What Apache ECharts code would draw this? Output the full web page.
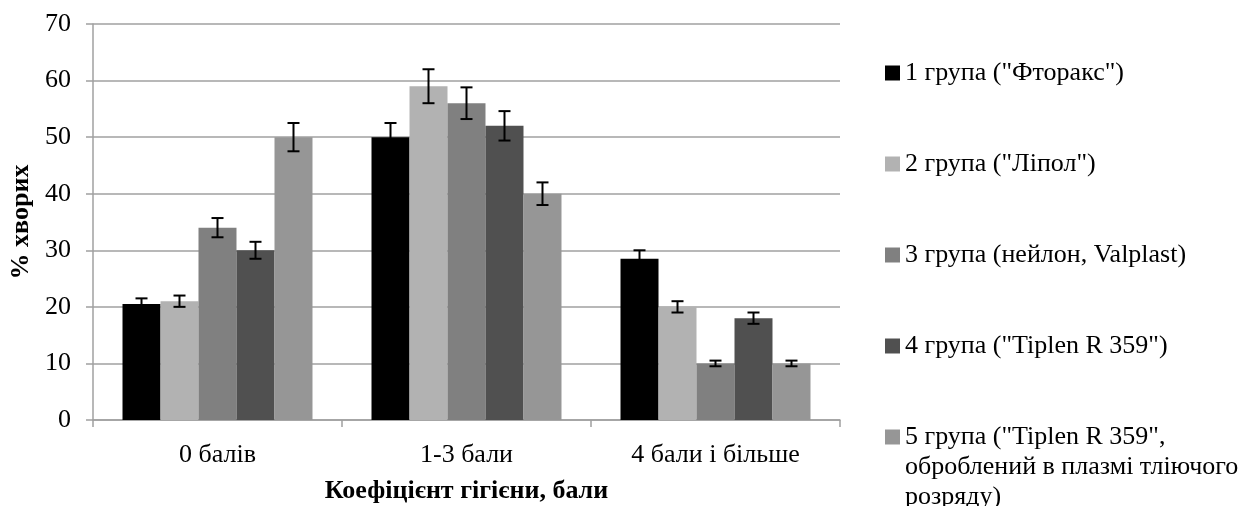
<!DOCTYPE html>
<html><head><meta charset="utf-8">
<script src="https://cdn.jsdelivr.net/npm/echarts@6/dist/echarts.min.js"></script>
<style>html,body{margin:0;padding:0;background:#fff}#c{width:1250px;height:506px}</style>
</head><body><div id="c"></div>
<script>
var categories = ['0 балів', '1-3 бали', '4 бали і більше'];
var seriesNames = ['1 група ("Фторакс")', '2 група ("Ліпол")', '3 група (нейлон, Valplast)', '4 група ("Tiplen R 359")', '5 група ("Tiplen R 359", оброблений в плазмі тліючого розряду)'];
var legendLabels = ['1 група ("Фторакс")', '2 група ("Ліпол")', '3 група (нейлон, Valplast)', '4 група ("Tiplen R 359")', '\n\n5 група ("Tiplen R 359",\nоброблений в плазмі тліючого\nрозряду)'];
var group1 = [20.5, 50, 28.5];
var group2 = [21, 59, 20];
var group3 = [34, 56, 10];
var group4 = [30, 52, 18];
var group5 = [50, 40, 10];
var err1 = [1, 2.5, 1.5];
var err2 = [1, 3, 1];
var err3 = [1.7, 2.8, 0.5];
var err4 = [1.5, 2.6, 1];
var err5 = [2.5, 2, 0.5];
var yTicks = [0, 10, 20, 30, 40, 50, 60, 70];

var values = [group1, group2, group3, group4, group5];
var errs = [err1, err2, err3, err4, err5];
var colors = ['#000000', '#b2b2b2', '#808080', '#505050', '#969696'];
var catGap = 0.237;
var font = '"Liberation Serif", "Times New Roman", serif';

var chart = echarts.init(document.getElementById('c'));
var series = [];
values.forEach(function (v, i) {
  series.push({
    name: seriesNames[i], type: 'bar', data: v, barGap: '0%', barCategoryGap: (catGap * 100) + '%',
    itemStyle: { color: colors[i] }, silent: true, animation: false
  });
});
values.forEach(function (v, i) {
  series.push({
    type: 'custom', silent: true, animation: false, z: 10,
    data: v.map(function (val, k) { return [k, val - errs[i][k], val + errs[i][k]]; }),
    encode: { x: 0, y: [1, 2] },
    renderItem: function (params, api) {
      var band = api.size([1, 0])[0];
      var barW = band * (1 - catGap) / 5;
      var off = -band * (1 - catGap) / 2 + barW * (i + 0.5);
      var lo = api.coord([api.value(0), api.value(1)]);
      var hi = api.coord([api.value(0), api.value(2)]);
      var x = lo[0] + off, cw = 6;
      var st = { stroke: '#000', lineWidth: 2 };
      return { type: 'group', children: [
        { type: 'line', shape: { x1: x, y1: lo[1], x2: x, y2: hi[1] }, style: st },
        { type: 'line', shape: { x1: x - cw, y1: lo[1], x2: x + cw, y2: lo[1] }, style: st },
        { type: 'line', shape: { x1: x - cw, y1: hi[1], x2: x + cw, y2: hi[1] }, style: st }
      ] };
    }
  });
});

var legendCenters = [73, 164, 255, 346, 437];
var lh = 30;
var legends = [];
seriesNames.forEach(function (n, i) {
  var lines = legendLabels[i].split('\n').length;
  legends.push({
    data: [n], left: 885, itemWidth: 15, itemHeight: 15, itemGap: 0, selectedMode: false,
    icon: 'rect', formatter: function () { return legendLabels[i]; },
    top: legendCenters[i] - lines * lh / 2, padding: 0,
    textStyle: { fontFamily: font, fontSize: 26, color: '#000', lineHeight: lh }
  });
});

chart.setOption({
  backgroundColor: '#fff',
  animation: false,
  grid: { left: 93, top: 24, right: 410, bottom: 86, outerBoundsMode: 'none', containLabel: false },
  legend: legends,
  xAxis: {
    type: 'category', data: categories,
    name: 'Коефіцієнт гігієни, бали', nameLocation: 'middle', nameGap: 58,
    nameTextStyle: { fontFamily: font, fontSize: 26, fontWeight: 'bold', color: '#000' },
    axisLine: { lineStyle: { color: '#a0a0a0', width: 1.5 } },
    axisTick: { show: true, length: 7, lineStyle: { color: '#a0a0a0', width: 1.5 } },
    axisLabel: { fontFamily: font, fontSize: 26, color: '#000', margin: 22 }
  },
  yAxis: {
    type: 'value', min: yTicks[0], max: yTicks[yTicks.length - 1], interval: 10,
    name: '% хворих', nameLocation: 'middle', nameGap: 53,
    nameTextStyle: { fontFamily: font, fontSize: 26, fontWeight: 'bold', color: '#000' },
    axisLine: { show: true, lineStyle: { color: '#a0a0a0', width: 1.5 } },
    axisTick: { show: true, length: 7, lineStyle: { color: '#a0a0a0', width: 1.5 } },
    splitLine: { lineStyle: { color: '#a0a0a0', width: 1.5 } },
    axisLabel: { fontFamily: font, fontSize: 26, color: '#000', margin: 22 }
  },
  series: series
});
</script></body></html>
